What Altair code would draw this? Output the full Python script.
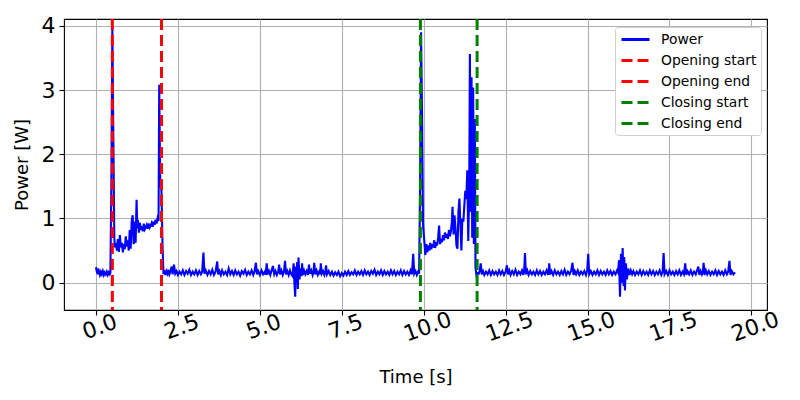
import altair as alt
import pandas as pd

# ---- power trace (time in s, power in W) ----
t_idle1 = [0.00, 0.02, 0.04, 0.06, 0.09, 0.12, 0.15, 0.18, 0.21, 0.24,
           0.27, 0.30, 0.33, 0.36, 0.39, 0.42, 0.44]
p_idle1 = [0.24, 0.19, 0.22, 0.13, 0.18, 0.12, 0.17, 0.13, 0.18, 0.12,
           0.16, 0.13, 0.17, 0.12, 0.16, 0.13, 0.15]

t_open = [0.47, 0.50, 0.53, 0.56, 0.58, 0.61, 0.64, 0.67, 0.70, 0.73,
          0.76, 0.79, 0.82, 0.85, 0.88, 0.91, 0.94, 0.97, 1.00, 1.03,
          1.06, 1.09, 1.12, 1.15, 1.18, 1.21, 1.24, 1.26, 1.28, 1.31,
          1.34, 1.37, 1.40, 1.43, 1.46, 1.49, 1.52, 1.55, 1.58, 1.61,
          1.64, 1.67, 1.70, 1.73, 1.76, 1.79, 1.82, 1.85, 1.88, 1.91,
          1.93, 1.96, 2.00, 2.03]
p_open = [1.50, 3.95, 2.30, 0.70, 0.55, 0.62, 0.50, 0.68, 0.48, 0.74,
          0.55, 0.62, 0.47, 0.60, 0.52, 0.72, 0.56, 0.66, 0.50, 0.82,
          0.53, 0.95, 1.05, 0.60, 0.95, 0.62, 1.29, 0.85, 0.98, 0.78,
          0.93, 0.82, 0.88, 0.80, 0.92, 0.83, 0.86, 0.90, 0.84, 0.92,
          0.86, 0.89, 0.93, 0.87, 0.95, 0.90, 0.98, 0.92, 1.00, 0.96,
          3.08, 1.57, 1.42, 0.60]

t_idle2 = [2.06, 2.09, 2.12, 2.15, 2.18, 2.21, 2.24, 2.27, 2.31, 2.34,
           2.38, 2.42, 2.46, 2.50, 2.55, 2.60, 2.65, 2.70, 2.75, 2.80,
           2.85, 2.90, 2.95, 3.00, 3.05, 3.10, 3.15, 3.20, 3.24, 3.28,
           3.31, 3.35, 3.40, 3.45, 3.50, 3.55, 3.60, 3.65, 3.70, 3.73,
           3.77, 3.81, 3.85, 3.90, 3.95, 4.00, 4.05, 4.10, 4.15, 4.20,
           4.25, 4.30, 4.35, 4.40, 4.45, 4.50, 4.55, 4.60, 4.65, 4.70,
           4.75, 4.80, 4.84, 4.88, 4.91, 4.95, 5.00, 5.05, 5.10, 5.15,
           5.18, 5.21, 5.24, 5.28, 5.32, 5.36, 5.40, 5.44, 5.48, 5.52,
           5.56, 5.59, 5.62, 5.66, 5.70, 5.74, 5.77, 5.80, 5.84, 5.88,
           5.92, 5.96, 6.00, 6.03, 6.06, 6.08, 6.10, 6.12, 6.14, 6.16,
           6.18, 6.21, 6.24, 6.27, 6.29, 6.31, 6.35, 6.39, 6.43, 6.47,
           6.50, 6.53, 6.57, 6.61, 6.64, 6.66, 6.69, 6.73, 6.77, 6.81,
           6.84, 6.86, 6.89, 6.93, 6.97, 7.00, 7.02, 7.05, 7.10, 7.15,
           7.20, 7.25, 7.30, 7.35, 7.40, 7.45, 7.50, 7.55, 7.60, 7.65,
           7.70, 7.75, 7.80, 7.85, 7.90, 7.95, 8.00, 8.05, 8.10, 8.15,
           8.20, 8.25, 8.30, 8.35, 8.40, 8.45, 8.50, 8.55, 8.60, 8.65,
           8.70, 8.75, 8.80, 8.85, 8.90, 8.95, 9.00, 9.05, 9.10, 9.15,
           9.20, 9.25, 9.30, 9.35, 9.40, 9.45, 9.50, 9.55, 9.60, 9.64,
           9.68, 9.71, 9.75, 9.79, 9.83, 9.86]
p_idle2 = [0.13, 0.19, 0.12, 0.18, 0.14, 0.20, 0.13, 0.17, 0.25, 0.13,
           0.28, 0.14, 0.18, 0.12, 0.17, 0.13, 0.19, 0.12, 0.18, 0.14,
           0.20, 0.12, 0.17, 0.13, 0.19, 0.12, 0.18, 0.13, 0.17, 0.47,
           0.14, 0.19, 0.12, 0.18, 0.13, 0.20, 0.12, 0.17, 0.33, 0.13,
           0.18, 0.12, 0.19, 0.13, 0.17, 0.12, 0.22, 0.13, 0.18, 0.12,
           0.19, 0.13, 0.17, 0.11, 0.18, 0.14, 0.20, 0.12, 0.17, 0.13,
           0.19, 0.12, 0.18, 0.31, 0.13, 0.18, 0.12, 0.19, 0.13, 0.17,
           0.12, 0.30, 0.13, 0.18, 0.12, 0.19, 0.26, 0.13, 0.18, 0.12,
           0.17, 0.28, 0.13, 0.19, 0.12, 0.18, 0.34, 0.13, 0.18, 0.12,
           0.19, 0.13, 0.10, 0.30, -0.05, -0.22, 0.25, 0.02, 0.32, -0.10,
           0.39, 0.05, 0.22, 0.10, 0.30, 0.12, 0.19, 0.13, 0.18, 0.12,
           0.28, 0.14, 0.19, 0.12, 0.18, 0.31, 0.13, 0.19, 0.12, 0.17,
           0.13, 0.30, 0.14, 0.18, 0.12, 0.17, 0.27, 0.13, 0.18, 0.12,
           0.17, 0.11, 0.16, 0.12, 0.17, 0.10, 0.15, 0.11, 0.17, 0.12,
           0.18, 0.12, 0.16, 0.13, 0.19, 0.12, 0.17, 0.13, 0.18, 0.12,
           0.19, 0.13, 0.17, 0.12, 0.18, 0.14, 0.20, 0.12, 0.17, 0.13,
           0.19, 0.12, 0.18, 0.13, 0.17, 0.12, 0.19, 0.13, 0.18, 0.12,
           0.17, 0.13, 0.19, 0.12, 0.18, 0.13, 0.17, 0.12, 0.19, 0.13,
           0.45, 0.14, 0.18, 0.12, 0.17, 0.14]

t_close = [9.89, 9.92, 9.95, 9.98, 10.02, 10.05, 10.08, 10.11, 10.14, 10.17,
           10.20, 10.23, 10.26, 10.29, 10.32, 10.35, 10.38, 10.41, 10.44, 10.47,
           10.50, 10.53, 10.56, 10.59, 10.62, 10.65, 10.68, 10.71, 10.74, 10.77,
           10.80, 10.83, 10.86, 10.88, 10.91, 10.94, 10.97, 11.00, 11.03, 11.06,
           11.09, 11.12, 11.15, 11.18, 11.21, 11.24, 11.27, 11.30, 11.33, 11.36,
           11.39, 11.41, 11.44, 11.46, 11.48, 11.51, 11.53, 11.56, 11.58, 11.61,
           11.64]
p_close = [1.50, 3.90, 2.60, 0.90, 0.64, 0.43, 0.60, 0.47, 0.58, 0.50,
           0.62, 0.52, 0.60, 0.55, 0.66, 0.54, 0.63, 0.58, 0.70, 0.89,
           0.60, 0.68, 0.63, 0.74, 0.66, 0.78, 0.70, 0.76, 0.68, 0.82,
           0.72, 0.80, 0.95, 1.18, 0.75, 1.05, 0.85, 0.58, 0.53, 1.10,
           1.31, 0.90, 0.50, 1.00, 0.95, 1.20, 1.43, 1.30, 1.75, 0.65,
           1.50, 3.56, 1.10, 3.20, 0.70, 3.04, 0.60, 2.55, 0.24, 0.12,
           0.15]

t_idle3 = [11.68, 11.71, 11.74, 11.77, 11.81, 11.85, 11.90, 11.95, 12.00, 12.05,
           12.10, 12.15, 12.20, 12.25, 12.30, 12.35, 12.40, 12.45, 12.50, 12.54,
           12.57, 12.61, 12.65, 12.70, 12.75, 12.80, 12.85, 12.90, 12.95, 13.00,
           13.04, 13.07, 13.09, 13.12, 13.16, 13.20, 13.25, 13.30, 13.35, 13.40,
           13.45, 13.50, 13.55, 13.60, 13.65, 13.70, 13.75, 13.80, 13.83, 13.86,
           13.90, 13.95, 14.00, 14.05, 14.10, 14.15, 14.20, 14.25, 14.30, 14.35,
           14.40, 14.45, 14.50, 14.54, 14.57, 14.61, 14.65, 14.70, 14.75, 14.80,
           14.85, 14.90, 14.95, 14.99, 15.02, 15.05, 15.10, 15.15, 15.20, 15.25,
           15.30, 15.35, 15.40, 15.45, 15.50, 15.55, 15.60, 15.65, 15.70, 15.75,
           15.80, 15.85, 15.90, 15.93, 15.96, 15.99, 16.02, 16.05, 16.07, 16.10,
           16.12, 16.14, 16.17, 16.20, 16.24, 16.28, 16.32, 16.36, 16.40, 16.45,
           16.50, 16.55, 16.60, 16.65, 16.70, 16.75, 16.80, 16.85, 16.90, 16.95,
           17.00, 17.05, 17.10, 17.15, 17.20, 17.25, 17.29, 17.32, 17.35, 17.40,
           17.45, 17.50, 17.55, 17.60, 17.65, 17.70, 17.75, 17.80, 17.85, 17.90,
           17.94, 17.98, 18.01, 18.05, 18.10, 18.15, 18.20, 18.25, 18.30, 18.34,
           18.38, 18.41, 18.45, 18.49, 18.52, 18.54, 18.57, 18.61, 18.65, 18.70,
           18.75, 18.80, 18.85, 18.90, 18.95, 19.00, 19.05, 19.10, 19.15, 19.20,
           19.25, 19.29, 19.33, 19.36, 19.40, 19.45, 19.50]
p_idle3 = [0.14, 0.19, 0.30, 0.13, 0.18, 0.12, 0.17, 0.13, 0.19, 0.12,
           0.18, 0.13, 0.17, 0.12, 0.19, 0.13, 0.18, 0.12, 0.17, 0.27,
           0.13, 0.19, 0.12, 0.18, 0.13, 0.20, 0.12, 0.17, 0.13, 0.19,
           0.12, 0.22, 0.46, 0.13, 0.19, 0.12, 0.18, 0.13, 0.17, 0.12,
           0.19, 0.13, 0.18, 0.12, 0.17, 0.13, 0.19, 0.12, 0.30, 0.13,
           0.18, 0.12, 0.19, 0.13, 0.17, 0.12, 0.18, 0.13, 0.20, 0.12,
           0.17, 0.13, 0.19, 0.31, 0.12, 0.18, 0.13, 0.19, 0.12, 0.17,
           0.13, 0.18, 0.12, 0.19, 0.45, 0.13, 0.18, 0.12, 0.17, 0.13,
           0.19, 0.12, 0.18, 0.13, 0.17, 0.12, 0.19, 0.13, 0.18, 0.12,
           0.17, 0.13, 0.19, 0.16, 0.35, -0.22, 0.45, 0.00, 0.54, -0.05,
           0.40, -0.12, 0.30, 0.05, 0.22, 0.12, 0.19, 0.13, 0.18, 0.12,
           0.17, 0.13, 0.19, 0.12, 0.18, 0.13, 0.17, 0.12, 0.19, 0.13,
           0.18, 0.12, 0.17, 0.13, 0.19, 0.12, 0.17, 0.46, 0.13, 0.18,
           0.12, 0.19, 0.13, 0.17, 0.12, 0.18, 0.13, 0.19, 0.12, 0.17,
           0.13, 0.30, 0.12, 0.18, 0.13, 0.19, 0.12, 0.17, 0.13, 0.19,
           0.25, 0.12, 0.18, 0.13, 0.17, 0.31, 0.12, 0.19, 0.13, 0.18,
           0.12, 0.17, 0.13, 0.19, 0.12, 0.18, 0.13, 0.17, 0.12, 0.19,
           0.13, 0.17, 0.34, 0.12, 0.18, 0.13, 0.16]

# ---- event markers ----
event_names = ["Opening start", "Opening end", "Closing start", "Closing end"]
event_times = [0.50, 2.00, 9.90, 11.63]

series_names = ["Power"] + event_names
series_colors = ["#0000ff", "#ff0000", "#ff0000", "#008000", "#008000"]
series_dashes = [[1, 0], [11, 5], [11, 5], [11, 5], [11, 5]]

x_ticks = [0, 2.5, 5, 7.5, 10, 12.5, 15, 17.5, 20]
y_ticks = [0, 1, 2, 3, 4]

time_s = t_idle1 + t_open + t_idle2 + t_close + t_idle3
power_w = p_idle1 + p_open + p_idle2 + p_close + p_idle3
assert len(time_s) == len(power_w)

trace = pd.DataFrame({"time": time_s, "power": power_w, "series": "Power"})
events = pd.DataFrame({"time": event_times, "series": event_names})

color_scale = alt.Scale(domain=series_names, range=series_colors)
dash_scale = alt.Scale(domain=series_names, range=series_dashes)

legend = alt.Legend(
    title=None, orient="none", legendX=551, legendY=8,
    symbolType="M-2,0H2", symbolSize=196, symbolStrokeWidth=2.8,
    symbolOffset=8,
    labelFont="DejaVu Sans", labelFontSize=13.9, labelColor="black",
    padding=4, rowPadding=5, strokeColor="#d0d0d0", fillColor="white",
    cornerRadius=3, labelOffset=17, labelLimit=200,
)

x_enc = alt.X(
    "time:Q",
    scale=alt.Scale(domain=[-0.975, 20.475], nice=False, zero=False),
    axis=alt.Axis(values=x_ticks, format=".1f", title="Time [s]",
                  labelAngle=-20, labelAlign="center", labelBaseline="top"),
)

line = alt.Chart(trace).mark_line(strokeWidth=2.1, clip=True).encode(
    x=x_enc,
    y=alt.Y("power:Q",
            scale=alt.Scale(domain=[-0.426, 4.106], nice=False, zero=False),
            axis=alt.Axis(values=y_ticks, format="d", title="Power [W]")),
    color=alt.Color("series:N", scale=color_scale, legend=legend),
    strokeDash=alt.StrokeDash("series:N", scale=dash_scale, legend=legend),
)

rules = alt.Chart(events).mark_rule(strokeWidth=3).encode(
    x=alt.X("time:Q"),
    color=alt.Color("series:N", scale=color_scale, legend=legend),
    strokeDash=alt.StrokeDash("series:N", scale=dash_scale, legend=legend),
)

chart = alt.layer(line, rules).properties(
    width=703, height=291,
    padding={"left": 5, "top": 6, "right": 5, "bottom": 5},
).configure(
    font="DejaVu Sans",
).configure_view(
    stroke="black", strokeWidth=1.1,
).configure_axis(
    domain=False, grid=True, gridColor="#b0b0b0", gridWidth=1.1,
    ticks=True, tickColor="black", tickSize=5, tickWidth=1.1,
    labelFontSize=22, labelColor="black", labelPadding=4,
    titleFontSize=18, titleFontWeight="normal", titleColor="black",
    labelFont="DejaVu Sans", titleFont="DejaVu Sans",
).configure_axisY(titlePadding=10).configure_axisX(titlePadding=23, labelPadding=2)

chart.save("out.html", embed_options={"renderer": "svg", "actions": False})
